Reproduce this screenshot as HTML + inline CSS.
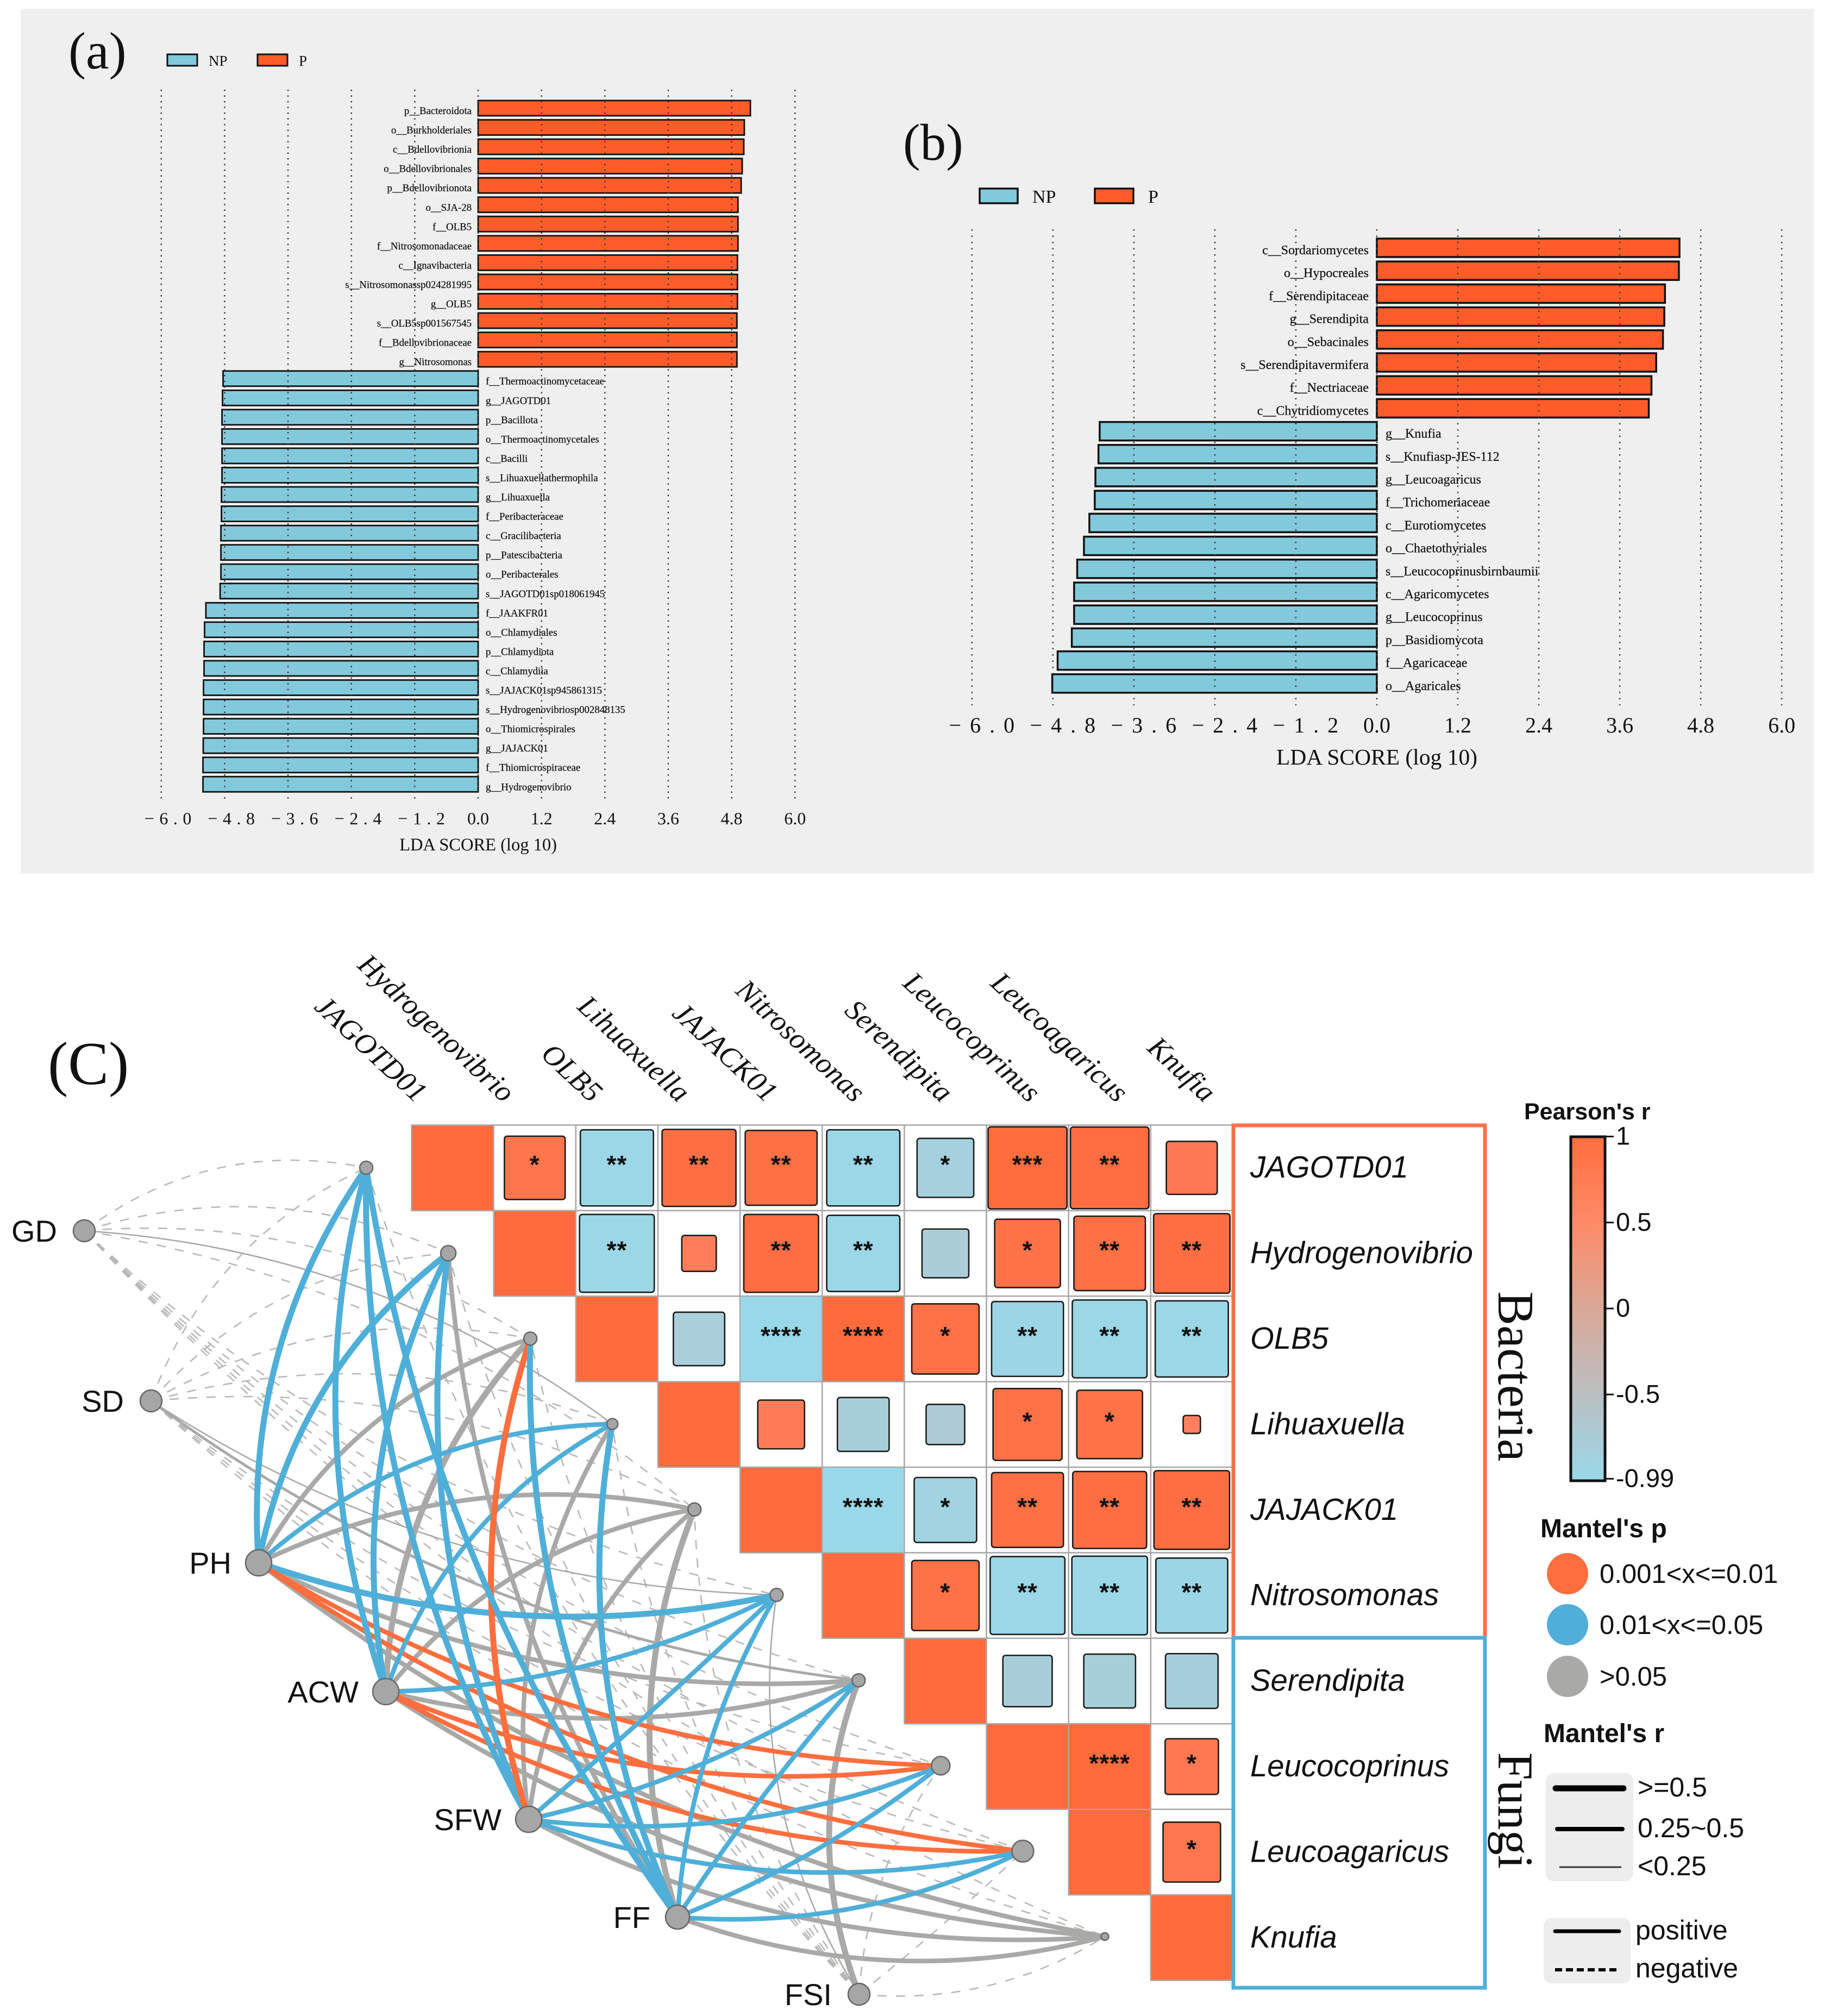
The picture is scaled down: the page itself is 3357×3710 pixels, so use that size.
<!DOCTYPE html>
<html lang="en">
<head>
<meta charset="utf-8">
<title>LDA scores and Mantel correlation network</title>
<style>
html,body{margin:0;padding:0;background:#fff;}
svg{display:block;}
text{font-family:"Liberation Sans",sans-serif;fill:#111;}
.serif{font-family:"Liberation Serif",serif;}
</style>
</head>
<body>
<svg id="chart" xmlns="http://www.w3.org/2000/svg" width="3357" height="3710" viewBox="0 0 3357 3710">
  <defs>
    <linearGradient id="pearson-gradient" x1="0" y1="0" x2="0" y2="1">
      <stop offset="0" stop-color="#FF6E3E"/>
      <stop offset="0.25" stop-color="#FF8A68"/>
      <stop offset="0.5" stop-color="#D9A898"/>
      <stop offset="0.75" stop-color="#BBBFC1"/>
      <stop offset="1" stop-color="#99D9EA"/>
    </linearGradient>
  </defs>
  <rect x="38" y="16" width="3300" height="1591" fill="#EFEFEF"/>
  <text class="serif" x="126" y="126" font-size="96">(a)</text>
  <text class="serif" x="1662" y="294" font-size="95">(b)</text>
  <text class="serif" x="88" y="1995" font-size="112">(C)</text>

  <g>
    <rect x="308" y="100" width="55" height="21" fill="#83C9DC" stroke="#111" stroke-width="3"/>
    <text class="serif" x="384" y="121" font-size="27">NP</text>
    <rect x="474" y="100" width="55" height="21" fill="#FF5C2A" stroke="#111" stroke-width="3"/>
    <text class="serif" x="550" y="121" font-size="27">P</text>
  </g>
  <g>
    <rect x="1803" y="347" width="70" height="27" fill="#83C9DC" stroke="#111" stroke-width="3.5"/>
    <text class="serif" x="1900" y="373" font-size="34">NP</text>
    <rect x="2015" y="347" width="71" height="27" fill="#FF5C2A" stroke="#111" stroke-width="3.5"/>
    <text class="serif" x="2113" y="373" font-size="34">P</text>
  </g>

  <g id="lda-a"></g>
  <g id="lda-b"></g>
  <g id="network"></g>
  <g id="heatmap"></g>

  <rect x="2270" y="2071" width="463" height="943" fill="none" stroke="#FF7048" stroke-width="7"/>
  <rect x="2270" y="3014" width="463" height="644" fill="none" stroke="#4FAFD8" stroke-width="7"/>
  <text class="serif" transform="translate(2758,2533) rotate(90)" text-anchor="middle" font-size="94">Bacteria</text>
  <text class="serif" transform="translate(2758,3332) rotate(90)" text-anchor="middle" font-size="92">Fungi</text>

  <g>
    <text x="2805" y="2060" font-size="43" font-weight="bold">Pearson's r</text>
    <rect x="2891" y="2092" width="63" height="633" fill="url(#pearson-gradient)" stroke="#111" stroke-width="5"/>
    <g id="colorbar-ticks"></g>
  </g>

  <g>
    <text x="2835" y="2829" font-size="48" font-weight="bold">Mantel's p</text>
    <circle cx="2885" cy="2896" r="38" fill="#FF6E3E"/>
    <text x="2944" y="2913" font-size="49">0.001&lt;x&lt;=0.01</text>
    <circle cx="2885" cy="2990" r="38" fill="#4FAFD8"/>
    <text x="2944" y="3007" font-size="49">0.01&lt;x&lt;=0.05</text>
    <circle cx="2885" cy="3085" r="38" fill="#A9A9A7"/>
    <text x="2944" y="3102" font-size="49">&gt;0.05</text>
  </g>

  <g>
    <text x="2841" y="3206" font-size="48" font-weight="bold">Mantel's r</text>
    <rect x="2845" y="3263" width="161" height="199" rx="14" fill="#EDEDED"/>
    <line x1="2863" x2="2988" y1="3291" y2="3291" stroke="#000" stroke-width="11" stroke-linecap="round"/>
    <text x="3014" y="3306" font-size="50">&gt;=0.5</text>
    <line x1="2866" x2="2986" y1="3366" y2="3366" stroke="#000" stroke-width="8" stroke-linecap="round"/>
    <text x="3014" y="3381" font-size="50">0.25~0.5</text>
    <line x1="2870" x2="2984" y1="3436" y2="3436" stroke="#333" stroke-width="3"/>
    <text x="3014" y="3451" font-size="50">&lt;0.25</text>
  </g>

  <g>
    <rect x="2841" y="3530" width="160" height="120" rx="14" fill="#EDEDED"/>
    <line x1="2862" x2="2980" y1="3554" y2="3554" stroke="#000" stroke-width="7" stroke-linecap="round"/>
    <text x="3010" y="3569" font-size="50">positive</text>
    <line x1="2862" x2="2982" y1="3625" y2="3625" stroke="#000" stroke-width="6" stroke-dasharray="13 7"/>
    <text x="3010" y="3639" font-size="50">negative</text>
  </g>
</svg>

<script>
// ---------- LDA panel (a) data ----------
const ldaTicks = [-6, -4.8, -3.6, -2.4, -1.2, 0, 1.2, 2.4, 3.6, 4.8, 6];
const bacteriaTaxa = ["p__Bacteroidota","o__Burkholderiales","c__Bdellovibrionia","o__Bdellovibrionales","p__Bdellovibrionota","o__SJA-28","f__OLB5","f__Nitrosomonadaceae","c__Ignavibacteria","s__Nitrosomonassp024281995","g__OLB5","s__OLB5sp001567545","f__Bdellovibrionaceae","g__Nitrosomonas","f__Thermoactinomycetaceae","g__JAGOTD01","p__Bacillota","o__Thermoactinomycetales","c__Bacilli","s__Lihuaxuellathermophila","g__Lihuaxuella","f__Peribacteraceae","c__Gracilibacteria","p__Patescibacteria","o__Peribacterales","s__JAGOTD01sp018061945","f__JAAKFR01","o__Chlamydiales","p__Chlamydiota","c__Chlamydiia","s__JAJACK01sp945861315","s__Hydrogenovibriosp002848135","o__Thiomicrospirales","g__JAJACK01","f__Thiomicrospiraceae","g__Hydrogenovibrio"];
const bacteriaScores = [5.155,5.04,5.03,5.0,4.98,4.92,4.92,4.92,4.91,4.91,4.91,4.9,4.9,4.9,-4.83,-4.84,-4.85,-4.85,-4.85,-4.85,-4.86,-4.86,-4.87,-4.87,-4.87,-4.885,-5.155,-5.18,-5.19,-5.19,-5.2,-5.2,-5.2,-5.205,-5.21,-5.21];

// ---------- LDA panel (b) data ----------
const fungiTaxa = ["c__Sordariomycetes","o__Hypocreales","f__Serendipitaceae","g__Serendipita","o__Sebacinales","s__Serendipitavermifera","f__Nectriaceae","c__Chytridiomycetes","g__Knufia","s__Knufiasp-JES-112","g__Leucoagaricus","f__Trichomeriaceae","c__Eurotiomycetes","o__Chaetothyriales","s__Leucocoprinusbirnbaumii","c__Agaricomycetes","g__Leucocoprinus","p__Basidiomycota","f__Agaricaceae","o__Agaricales"];
const fungiScores = [4.485,4.476,4.27,4.26,4.24,4.14,4.07,4.03,-4.107,-4.125,-4.17,-4.18,-4.26,-4.34,-4.44,-4.486,-4.486,-4.52,-4.73,-4.81];

// ---------- Heatmap data ----------
const heatTaxa = ["JAGOTD01","Hydrogenovibrio","OLB5","Lihuaxuella","JAJACK01","Nitrosomonas","Serendipita","Leucocoprinus","Leucoagaricus","Knufia"];
const heatR = [
  [1,.74,-.89,.9,.875,-.89,-.69,.96,.955,.62],
  [1,-.91,.42,.91,-.89,-.57,.80,.87,.93],
  [1,-.625,-1,1,.82,-.875,-.91,-.89],
  [1,.57,-.63,-.47,.84,.80,.21],
  [1,-1,-.76,.875,.90,.92],
  [1,.82,-.91,-.92,-.875],
  [1,-.6,-.63,-.64],
  [1,1,.65],
  [1,.70],
  [1]
];
const heatStars = [
  ["","*","**","**","**","**","*","***","**",""],
  ["","**","","**","**","","*","**","**"],
  ["","","****","****","*","**","**","**"],
  ["","","","","*","*",""],
  ["","****","*","**","**","**"],
  ["","*","**","**","**"],
  ["","","",""],
  ["","****","*"],
  ["","*"],
  [""]
];

// ---------- Mantel data (rows: environmental factors, cols: heatTaxa) ----------
const envFactors = ["GD","SD","PH","ACW","SFW","FF","FSI"];
const mantelP = [
  [.2,.2,.2,.2,.2,.2,.2,.2,.2,.2],
  [.2,.2,.2,.2,.2,.2,.2,.2,.2,.2],
  [.03,.03,.2,.03,.2,.03,.2,.005,.005,.2],
  [.03,.03,.2,.03,.2,.03,.2,.005,.005,.2],
  [.03,.03,.005,.2,.2,.03,.03,.03,.03,.2],
  [.03,.2,.03,.03,.2,.03,.03,.03,.03,.2],
  [.2,.2,.2,.2,.2,.2,.3,.2,.2,.2]
];
const mantelR = [
  [-.1,-.1,-.1,.1,-.1,-.1,-.1,-.1,-.1,-.1],
  [-.1,-.1,-.1,-.1,-.1,.1,.2,-.1,-.1,-.1],
  [.6,.6,.3,.3,.3,.6,.3,.3,.3,.3],
  [.6,.6,.6,.3,.3,.3,.3,.3,.3,.3],
  [.6,.6,.6,.3,.3,.3,.3,.3,.3,.3],
  [.6,.3,.6,.6,.6,.3,.3,.3,.3,.3],
  [-.1,-.1,-.1,-.1,-.1,.1,.6,-.1,-.1,-.1]
];
const geneNodeSizes = [12,14,12,10,12,12,12,17,20,7];
const envNodeSizes = [20,20,24,24,24,22,20];

// ---------- Colorbar ticks ----------
const colorbarTicks = [1, 0.5, 0, -0.5, -0.99];

// ---------- Layout ----------
const SVGNS = "http://www.w3.org/2000/svg";
function mk(parent, tag, attrs, text) {
  const el = document.createElementNS(SVGNS, tag);
  for (const k in attrs) el.setAttribute(k, attrs[k]);
  if (text !== undefined) el.textContent = text;
  parent.appendChild(el);
  return el;
}

function drawLda(root, taxa, scores, o) {
  const x = v => o.x0 + v * o.unit;
  const y = i => o.yFirst + i * o.step;
  taxa.forEach((name, i) => {
    const v = scores[i];
    const bar = mk(root, "rect", {
      x: Math.min(x(0), x(v)), y: y(i) - o.barH / 2,
      width: Math.abs(x(v) - x(0)), height: o.barH,
      fill: v >= 0 ? "#FF5C2A" : "#83C9DC",
      stroke: "#111", "stroke-width": o.barStroke
    });
    
    
  });
  ldaTicks.forEach(t => {
    const line = mk(root, "line", {
      x1: x(t), x2: x(t), y1: o.gridTop, y2: o.gridBottom,
      stroke: "#333", "stroke-width": o.gridW, "stroke-dasharray": o.gridDash
    });
    
    
    const label = t < 0 ? "\u2212" + Math.abs(t).toFixed(1) : t.toFixed(1);
    const tick = mk(root, "text", {
      x: x(t) + (t < 0 ? o.negShift : 0), y: o.tickY, "text-anchor": "middle",
      "font-size": o.tickSize, "letter-spacing": t < 0 ? o.negSpacing : 0, class: "serif"
    }, label);
    
    
  });
  taxa.forEach((name, i) => {
    const v = scores[i];
    const t = mk(root, "text", {
      x: v >= 0 ? x(0) - o.labelGapLeft : x(0) + o.labelGapRight,
      y: y(i) + o.labelDy, "text-anchor": v >= 0 ? "end" : "start",
      "font-size": o.labelSize, class: "serif", "stroke": "#111", "stroke-width": 0.25
    }, name);
    
    
  });
  const title = mk(root, "text", {
    x: x(0), y: o.titleY, "text-anchor": "middle", "font-size": o.titleSize, class: "serif"
  }, "LDA SCORE (log 10)");
  
  
}

drawLda(document.getElementById("lda-a"), bacteriaTaxa, bacteriaScores, {
  x0: 880, unit: 97.2, yFirst: 199, step: 35.55, barH: 28, barStroke: 2.8,
  gridTop: 165, gridBottom: 1474, gridW: 2.5, gridDash: "2.5 8",
  tickY: 1517, tickSize: 32, negShift: 17, negSpacing: 9.5,
  labelGapLeft: 12, labelGapRight: 14, labelDy: 11, labelSize: 18.8,
  titleY: 1565, titleSize: 32.5
});
drawLda(document.getElementById("lda-b"), fungiTaxa, fungiScores, {
  x0: 2534, unit: 124.2, yFirst: 456, step: 42.2, barH: 34, barStroke: 3.5,
  gridTop: 422, gridBottom: 1298, gridW: 2.5, gridDash: "2.5 9",
  tickY: 1348, tickSize: 40, negShift: 26, negSpacing: 16,
  labelGapLeft: 15, labelGapRight: 16, labelDy: 12, labelSize: 24,
  titleY: 1407, titleSize: 41.5
});

// ---------- Heatmap ----------
const cellW = 151.15, cellH = 157.4, gridX0 = 757.5, gridY0 = 2070.5;
const colX = j => gridX0 + j * cellW;
const rowY = i => gridY0 + i * cellH;
function hex(c) { return [1, 3, 5].map(k => parseInt(c.substr(k, 2), 16)); }
const colorStops = [[-1, "#99D8E8"], [-.85, "#9CD6E5"], [-.6, "#A9CED9"], [-.45, "#AFCBD4"], [0, "#D9A898"], [.2, "#FF8060"], [.6, "#FF7A55"], [1, "#FF6B3D"]];
function heatColor(r) {
  for (let k = 0; k < colorStops.length - 1; k++) {
    const a = colorStops[k], b = colorStops[k + 1];
    if (r <= b[0]) {
      const t = (r - a[0]) / (b[0] - a[0]);
      const ca = hex(a[1]), cb = hex(b[1]);
      return "rgb(" + ca.map((v, n) => Math.round(v + (cb[n] - v) * t)).join(",") + ")";
    }
  }
  return colorStops[colorStops.length - 1][1];
}

const heat = document.getElementById("heatmap");
heatR.forEach((row, i) => {
  row.forEach((r, n) => {
    const j = i + n;
    const cell = mk(heat, "rect", {
      x: colX(j), y: rowY(i), width: cellW, height: cellH,
      fill: n === 0 ? "#FF6B3D" : "#fff", stroke: "#A8A8A8", "stroke-width": 2.5
    });
    
    
    if (n === 0) return;
    const a = Math.abs(r);
    const w = a * cellW - (a === 1 ? 2 : 0), h = a * cellH - (a === 1 ? 2 : 0);
    const cx = colX(j) + cellW / 2, cy = rowY(i) + cellH / 2;
    const sq = mk(heat, "rect", {
      x: cx - w / 2, y: cy - h / 2, width: w, height: h,
      rx: a === 1 ? 0 : 5, fill: heatColor(r),
      stroke: a === 1 ? "none" : "#1a1a1a", "stroke-width": a === 1 ? 0 : 2.6
    });
    
    
    const s = heatStars[i][n];
    if (s) {
      const st = mk(heat, "text", {
        x: cx, y: cy + 10, "text-anchor": "middle", "font-size": 46, "font-weight": "bold", "letter-spacing": 1, fill: "#111"
      }, s);
      
      
    }
  });
});
heatTaxa.forEach((name, i) => {
  const rowLabel = mk(heat, "text", {
    x: 2301, y: rowY(i) + cellH / 2 + 18, "font-size": 56.3, "font-style": "italic"
  }, name);
  
  
  const colLabel = mk(heat, "text", {
    transform: "translate(" + (765 + 161.3 * i) + ",2031) rotate(43)",
    "text-anchor": "end", "font-size": 54, "font-style": "italic", class: "serif"
  }, name);
  
  
});

// ---------- Network ----------
const envAnchors = [[155,2265],[278,2578],[476,2876],[710,3113],[973,3348],[1247,3528],[1581,3670]];
const geneX = j => 674 + 151.05 * j;
const geneY = j => 2149 + 157.2 * j;
function linkColor(p) { return p <= .01 ? "#FF6E3E" : p <= .05 ? "#4FAFD8" : "#A9A9A7"; }
function linkWidth(r) { const a = Math.abs(r); return a >= .5 ? 11 : a >= .25 ? 8.5 : a >= .15 ? 5 : 2.6; }
function linkPath(e, g) {
  const x1 = envAnchors[e][0], y1 = envAnchors[e][1], x2 = geneX(g), y2 = geneY(g);
  const dx = x2 - x1, dy = y2 - y1, len = Math.hypot(dx, dy);
  let nx = -dy / len, ny = dx / len;
  const pick = g < 5 ? (-nx - ny) : (-nx + ny);
  if (pick < 0) { nx = -nx; ny = -ny; }
  // links running along the anti-diagonal stay nearly straight for the lower taxa
  const offAxis = Math.abs(dx + dy) / (len * Math.SQRT2);
  const sag = g < 5 ? 40 + 0.035 * len : offAxis * (60 + 0.03 * len);
  const b = 2 * sag;
  const mx = (x1 + x2) / 2 + nx * b, my = (y1 + y2) / 2 + ny * b;
  return "M" + x1 + " " + y1 + " Q" + mx.toFixed(1) + " " + my.toFixed(1) + " " + x2 + " " + y2;
}
const net = document.getElementById("network");
const drawPass = [
  (e, g) => mantelR[e][g] < 0,
  (e, g) => mantelR[e][g] >= 0 && mantelP[e][g] > .05,
  (e, g) => mantelR[e][g] >= 0 && mantelP[e][g] <= .05
];
drawPass.forEach(test => {
  envFactors.forEach((env, e) => {
    heatTaxa.forEach((gene, g) => {
      if (!test(e, g)) return;
      const r = mantelR[e][g];
      const attrs = {
        d: linkPath(e, g), fill: "none",
        stroke: r < 0 ? "#B8B8B6" : linkColor(mantelP[e][g]),
        "stroke-width": r < 0 ? 2.6 : linkWidth(r)
      };
      if (r < 0) attrs["stroke-dasharray"] = "17 17";
      const link = mk(net, "path", attrs);
      
      
    });
  });
});
heatTaxa.forEach((gene, g) => {
  const node = mk(net, "circle", {
    cx: geneX(g), cy: geneY(g), r: geneNodeSizes[g], fill: "#A6A6A6", stroke: "#666", "stroke-width": 2.5
  });
  
  
});
envFactors.forEach((env, e) => {
  const x = envAnchors[e][0], y = envAnchors[e][1];
  const node = mk(net, "circle", {
    cx: x, cy: y, r: envNodeSizes[e], fill: "#A6A6A6", stroke: "#666", "stroke-width": 2.5
  });
  
  
  const label = mk(net, "text", {
    x: x - 50, y: y + 20, "text-anchor": "end", "font-size": 56
  }, env);
  
  
});

// ---------- Colorbar ticks ----------
const cbY = v => 2408 - v * 316.5;
const cbRoot = document.getElementById("colorbar-ticks");
colorbarTicks.forEach(v => {
  const tick = mk(cbRoot, "line", {
    x1: 2956, x2: 2970, y1: cbY(v), y2: cbY(v), stroke: "#111", "stroke-width": 3
  });
  
  
  const t = mk(cbRoot, "text", {
    x: 2974, y: cbY(v) + 15, "font-size": 47
  }, String(v));
  
  
});
</script>
</body>
</html>
